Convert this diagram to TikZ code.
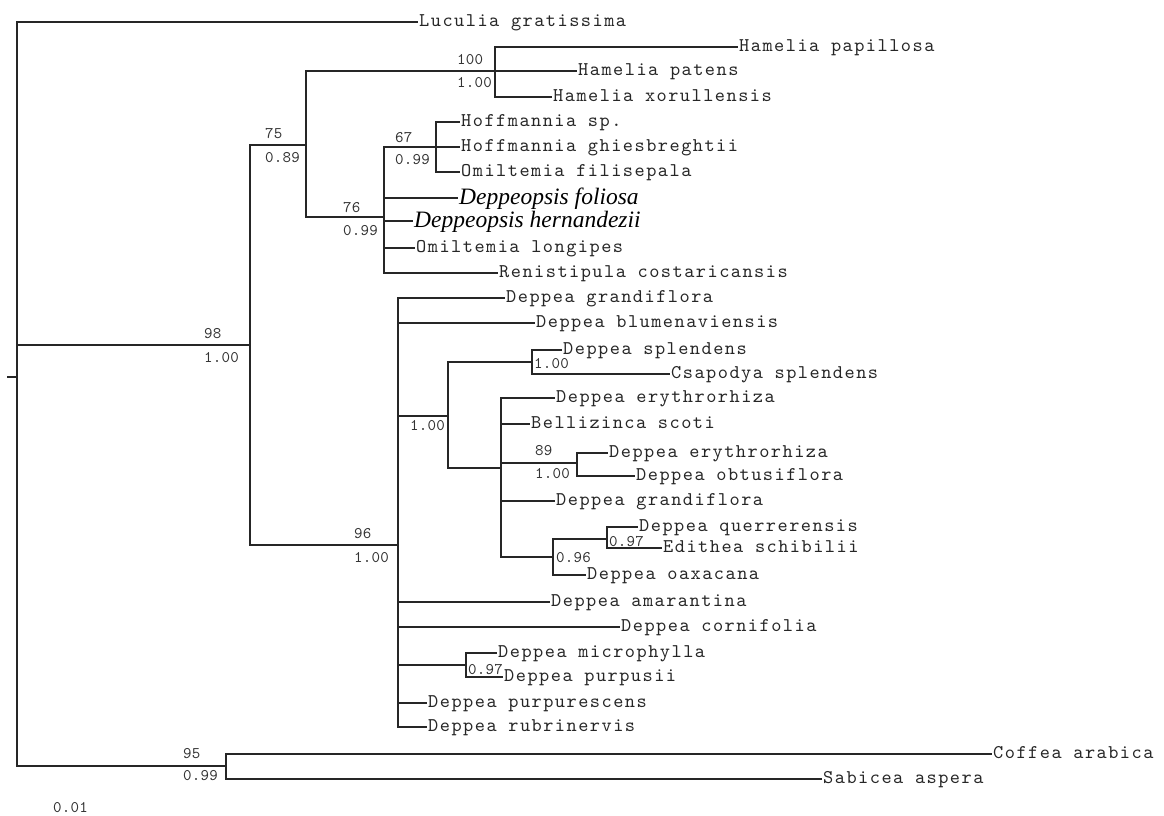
\documentclass[tikz,border=0pt]{standalone}
\usepackage{fontspec}
\newfontfamily\itserif{Liberation Serif}
\newfontfamily\treemono{lmmono10-regular.otf}[LetterSpace=7.6]
\newfontfamily\suppmono{lmmono10-regular.otf}[LetterSpace=1.5]
\tikzset{
  branch/.style={draw=black!85, line width=1.1pt},
  taxon/.style={anchor=base west, inner sep=0pt, text=black!85,
    font={\treemono\fontsize{19.4}{20}\selectfont}},
  taxonit/.style={anchor=base west, inner sep=0pt, text=black,
    font={\itserif\itshape\fontsize{23.5}{24}\selectfont}},
  supp/.style={anchor=base west, inner sep=0pt, text=black!80,
    font={\suppmono\fontsize{16.2}{17}\selectfont}},
}
\newcommand\leaf[4]{\coordinate (#1) at (#2,#3); \node[taxon,xshift=1pt,yshift=-4.5pt] (L#1) at (#1) {#4};}
\newcommand\leafit[4]{\coordinate (#1) at (#2,#3); \node[taxonit,xshift=1pt,yshift=-6.5pt] (L#1) at (#1) {#4};}
\begin{document}
\begin{tikzpicture}[x=1pt,y=-1pt]
\useasboundingbox (0,0) rectangle (1164,816);
% internal nodes
\coordinate (base) at (7,377);
\coordinate (root) at (17,377);
\coordinate (n98) at (250,345);
\coordinate (n75) at (306,145);
\coordinate (nHam) at (495,71);
\coordinate (n76) at (384,217);
\coordinate (n67) at (436,147);
\coordinate (n96) at (398,545);
\coordinate (nA) at (448,416);
\coordinate (nSpl) at (532,362);
\coordinate (nEry) at (501,468);
\coordinate (n89) at (577,463);
\coordinate (n096) at (553,557);
\coordinate (n097) at (607,539);
\coordinate (nMic) at (466,665);
\coordinate (nOut) at (226,766);
% leaves
\leaf{luc}{418}{22}{Luculia gratissima}
\leaf{hpap}{738}{47}{Hamelia papillosa}
\leaf{hpat}{577}{71}{Hamelia patens}
\leaf{hxor}{552}{97}{Hamelia xorullensis}
\leaf{hsp}{460}{122}{Hoffmannia sp.}
\leaf{hghi}{460}{147}{Hoffmannia ghiesbreghtii}
\leaf{ofil}{460}{172}{Omiltemia filisepala}
\leafit{dfol}{458}{198}{Deppeopsis foliosa}
\leafit{dher}{413}{221}{Deppeopsis hernandezii}
\leaf{olon}{415}{248}{Omiltemia longipes}
\leaf{rcos}{498}{273}{Renistipula costaricansis}
\leaf{dgra}{505}{298}{Deppea grandiflora}
\leaf{dblu}{535}{323}{Deppea blumenaviensis}
\leaf{dspl}{562}{350}{Deppea splendens}
\leaf{csap}{670}{374}{Csapodya splendens}
\leaf{derya}{555}{398}{Deppea erythrorhiza}
\leaf{bsco}{530}{424}{Bellizinca scoti}
\leaf{deryb}{608}{453}{Deppea erythrorhiza}
\leaf{dobt}{635}{476}{Deppea obtusiflora}
\leaf{dgrb}{555}{501}{Deppea grandiflora}
\leaf{dque}{638}{527}{Deppea querrerensis}
\leaf{esch}{662}{548}{Edithea schibilii}
\leaf{doax}{586}{575}{Deppea oaxacana}
\leaf{dama}{550}{602}{Deppea amarantina}
\leaf{dcor}{620}{627}{Deppea cornifolia}
\leaf{dmic}{497}{653}{Deppea microphylla}
\leaf{dpus}{503}{677}{Deppea purpusii}
\leaf{dppu}{427}{703}{Deppea purpurescens}
\leaf{drub}{427}{727}{Deppea rubrinervis}
\leaf{cara}{992}{754}{Coffea arabica}
\leaf{sasp}{822}{779}{Sabicea aspera}
% branches
\draw[branch] (base) -- (root);
\foreach \c in {luc,n98,nOut} \draw[branch] (root) |- (\c);
\foreach \c in {n75,n96} \draw[branch] (n98) |- (\c);
\foreach \c in {nHam,n76} \draw[branch] (n75) |- (\c);
\foreach \c in {hpap,hpat,hxor} \draw[branch] (nHam) |- (\c);
\foreach \c in {n67,dfol,dher,olon,rcos} \draw[branch] (n76) |- (\c);
\foreach \c in {hsp,hghi,ofil} \draw[branch] (n67) |- (\c);
\foreach \c in {dgra,dblu,nA,dama,dcor,nMic,dppu,drub} \draw[branch] (n96) |- (\c);
\foreach \c in {nSpl,nEry} \draw[branch] (nA) |- (\c);
\foreach \c in {dspl,csap} \draw[branch] (nSpl) |- (\c);
\foreach \c in {derya,bsco,n89,dgrb,n096} \draw[branch] (nEry) |- (\c);
\foreach \c in {deryb,dobt} \draw[branch] (n89) |- (\c);
\foreach \c in {n097,doax} \draw[branch] (n096) |- (\c);
\foreach \c in {dque,esch} \draw[branch] (n097) |- (\c);
\foreach \c in {dmic,dpus} \draw[branch] (nMic) |- (\c);
\foreach \c in {cara,sasp} \draw[branch] (nOut) |- (\c);
% support values
\node[supp] (s98a) at (204,338) {98};
\node[supp] (s98b) at (204,362) {1.00};
\node[supp] (s75a) at (265,138) {75};
\node[supp] (s75b) at (265,162) {0.89};
\node[supp] (sHa) at (457,65) {100};
\node[supp] (sHb) at (457,88) {1.00};
\node[supp] (s67a) at (395,142) {67};
\node[supp] (s67b) at (395,164) {0.99};
\node[supp] (s76a) at (343,212) {76};
\node[supp] (s76b) at (343,235) {0.99};
\node[supp] (s96a) at (354,538) {96};
\node[supp] (s96b) at (354,562) {1.00};
\node[supp] (sA) at (410,430) {1.00};
\node[supp] (sSpl) at (534,368) {1.00};
\node[supp] (s89a) at (535,455) {89};
\node[supp] (s89b) at (535,478) {1.00};
\node[supp] (s097) at (609,546) {0.97};
\node[supp] (s096) at (556,562) {0.96};
\node[supp] (sMic) at (468,674) {0.97};
\node[supp] (s95a) at (183,758) {95};
\node[supp] (s95b) at (183,780) {0.99};
\node[supp] (sc) at (53,812) {0.01};
\end{tikzpicture}
\end{document}
